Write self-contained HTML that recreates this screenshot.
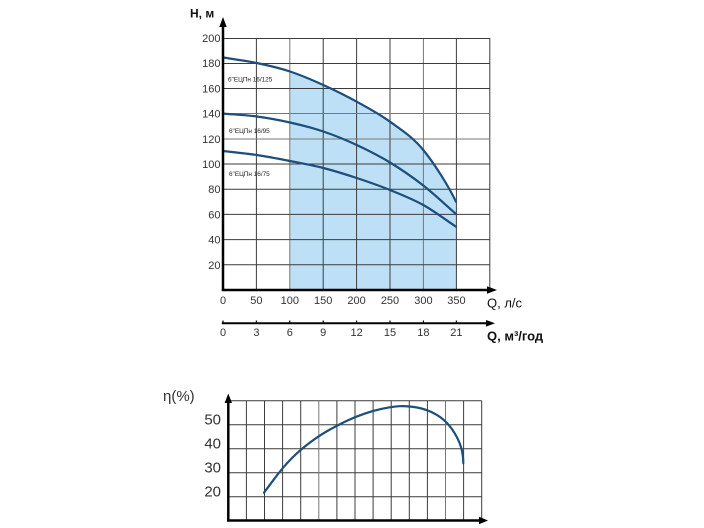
<!DOCTYPE html>
<html>
<head>
<meta charset="utf-8">
<style>
html,body{margin:0;padding:0;background:#fff;}
svg{display:block;}
text{font-family:"Liberation Sans","DejaVu Sans",sans-serif;}
</style>
</head>
<body>
<svg width="704" height="528" viewBox="0 0 704 528" xmlns="http://www.w3.org/2000/svg">
  <defs>
    <clipPath id="shadeClip"><rect x="290" y="0" width="166" height="290"/></clipPath>
  </defs>

  <!-- shaded region under top curve -->
  <path clip-path="url(#shadeClip)" fill="#bde0f6" d="M223,290 L223,57.5 C234.2,59.3 245.5,60.67 256.7,63 C267.9,65.33 278.9,67.83 290,71.5 C301.1,75.17 312.2,79.97 323.3,85 C334.4,90.03 345.6,95.58 356.7,101.7 C367.8,107.82 378.9,113.65 390,121.7 C401.1,129.75 412.3,136.67 423.3,150 C434.3,163.33 449,187 456,201.7 L456,290 Z"/>

  <!-- top grid -->
  <g stroke="#3c3c3c" stroke-width="1" fill="none">
    <line x1="256.4" y1="38" x2="256.4" y2="290"/>
    <line x1="289.8" y1="38" x2="289.8" y2="290" stroke="#777"/>
    <line x1="323.2" y1="38" x2="323.2" y2="290"/>
    <line x1="356.6" y1="38" x2="356.6" y2="290"/>
    <line x1="390" y1="38" x2="390" y2="290"/>
    <line x1="423.4" y1="38" x2="423.4" y2="290" stroke="#777"/>
    <line x1="456.4" y1="38" x2="456.4" y2="290"/>
    <line x1="489.8" y1="38" x2="489.8" y2="290"/>
    <line x1="223" y1="38.5" x2="490" y2="38.5"/>
    <line x1="223" y1="63.5" x2="490" y2="63.5"/>
    <line x1="223" y1="88.5" x2="490" y2="88.5"/>
    <line x1="223" y1="113.5" x2="490" y2="113.5" stroke="#777"/>
    <line x1="223" y1="139" x2="490" y2="139" stroke="#777"/>
    <line x1="223" y1="164" x2="490" y2="164"/>
    <line x1="223" y1="189.3" x2="490" y2="189.3"/>
    <line x1="223" y1="214.4" x2="490" y2="214.4"/>
    <line x1="223" y1="239.6" x2="490" y2="239.6"/>
    <line x1="223" y1="264.8" x2="490" y2="264.8"/>
  </g>

  <!-- curves -->
  <g stroke="#1d4e7c" stroke-width="2.2" fill="none" stroke-linecap="round">
    <path d="M223,57.5 C234.2,59.3 245.5,60.67 256.7,63 C267.9,65.33 278.9,67.83 290,71.5 C301.1,75.17 312.2,79.97 323.3,85 C334.4,90.03 345.6,95.58 356.7,101.7 C367.8,107.82 378.9,113.65 390,121.7 C401.1,129.75 412.3,136.67 423.3,150 C434.3,163.33 449,187 456,201.7"/>
    <path d="M223,113.6 C234.2,114.57 245.5,115.02 256.7,116.5 C267.9,117.98 278.9,120 290,122.5 C301.1,125 312.2,127.75 323.3,131.5 C334.4,135.25 345.6,139.83 356.7,145 C367.8,150.17 378.9,155.75 390,162.5 C401.1,169.25 412.3,176.92 423.3,185.5 C434.3,194.08 445.1,204.5 456,214"/>
    <path d="M223,151 C234.2,152.33 245.5,153.33 256.7,155 C267.9,156.67 278.9,158.83 290,161 C301.1,163.17 312.2,165.17 323.3,168 C334.4,170.83 345.6,174.33 356.7,178 C367.8,181.67 378.9,185.5 390,190 C401.1,194.5 412.3,198.88 423.3,205 C434.3,211.12 445.1,219.47 456,226.7"/>
  </g>

  <!-- curve labels -->
  <g font-size="6.4" fill="#222">
    <text x="228" y="81.5">6"ЕЦПн 16/125</text>
    <text x="229" y="133">6"ЕЦПн 16/95</text>
    <text x="229" y="176">6"ЕЦПн 16/75</text>
  </g>

  <!-- axes top chart -->
  <g stroke="#000" stroke-width="2.5" fill="none">
    <line x1="223" y1="25" x2="223" y2="291"/>
    <line x1="221.8" y1="290" x2="489" y2="290"/>
    <line x1="221.8" y1="323.3" x2="489" y2="323.3" stroke-width="2"/>
  </g>
  <polygon points="223,17 219.3,27 226.7,27" fill="#000"/>
  <polygon points="497,290 487,286.3 487,293.7" fill="#000"/>
  <polygon points="495,323.3 486,320 486,326.6" fill="#000"/>
  <!-- ticks on second axis -->
  <g stroke="#000" stroke-width="1.2">
    <line x1="223" y1="320.5" x2="223" y2="323"/>
    <line x1="256.4" y1="320.5" x2="256.4" y2="323"/>
    <line x1="289.8" y1="320.5" x2="289.8" y2="323"/>
    <line x1="323.2" y1="320.5" x2="323.2" y2="323"/>
    <line x1="356.6" y1="320.5" x2="356.6" y2="323"/>
    <line x1="390" y1="320.5" x2="390" y2="323"/>
    <line x1="423.4" y1="320.5" x2="423.4" y2="323"/>
    <line x1="456.4" y1="320.5" x2="456.4" y2="323"/>
  </g>

  <!-- y labels -->
  <text x="190" y="17.5" font-size="12" font-weight="bold" fill="#111">Н, м</text>
  <g font-size="11" fill="#333" text-anchor="end">
    <text x="220.5" y="42">200</text>
    <text x="220.5" y="67.2">180</text>
    <text x="220.5" y="92.4">160</text>
    <text x="220.5" y="117.6">140</text>
    <text x="220.5" y="142.8">120</text>
    <text x="220.5" y="168">100</text>
    <text x="220.5" y="193.2">80</text>
    <text x="220.5" y="218.4">60</text>
    <text x="220.5" y="243.6">40</text>
    <text x="220.5" y="268.8">20</text>
  </g>
  <!-- x labels axis 1 -->
  <g font-size="11" fill="#333" text-anchor="middle">
    <text x="223" y="304">0</text>
    <text x="256.4" y="304">50</text>
    <text x="289.8" y="304">100</text>
    <text x="323.2" y="304">150</text>
    <text x="356.6" y="304">200</text>
    <text x="390" y="304">250</text>
    <text x="423.4" y="304">300</text>
    <text x="456.4" y="304">350</text>
  </g>
  <g font-size="11" fill="#333" text-anchor="middle">
    <text x="223" y="336">0</text>
    <text x="256.4" y="336">3</text>
    <text x="289.8" y="336">6</text>
    <text x="323.2" y="336">9</text>
    <text x="356.6" y="336">12</text>
    <text x="390" y="336">15</text>
    <text x="423.4" y="336">18</text>
    <text x="456.4" y="336">21</text>
  </g>
  <text x="487" y="307.5" font-size="13" fill="#111">Q, л/с</text>
  <text x="487" y="340.5" font-size="13" font-weight="bold" fill="#111">Q, м³/год</text>

  <!-- lower chart grid -->
  <g stroke="#3c3c3c" stroke-width="1" fill="none">
    <line x1="228.3" y1="400.7" x2="481.7" y2="400.7"/>
    <line x1="228.3" y1="424.7" x2="481.7" y2="424.7"/>
    <line x1="228.3" y1="448.7" x2="481.7" y2="448.7"/>
    <line x1="228.3" y1="472.7" x2="481.7" y2="472.7"/>
    <line x1="228.3" y1="496.7" x2="481.7" y2="496.7"/>
    <line x1="246.4" y1="400.7" x2="246.4" y2="520"/>
    <line x1="264.5" y1="400.7" x2="264.5" y2="520"/>
    <line x1="282.6" y1="400.7" x2="282.6" y2="520"/>
    <line x1="300.7" y1="400.7" x2="300.7" y2="520"/>
    <line x1="318.8" y1="400.7" x2="318.8" y2="520" stroke="#777"/>
    <line x1="336.9" y1="400.7" x2="336.9" y2="520"/>
    <line x1="355" y1="400.7" x2="355" y2="520"/>
    <line x1="373.1" y1="400.7" x2="373.1" y2="520"/>
    <line x1="391.2" y1="400.7" x2="391.2" y2="520"/>
    <line x1="409.3" y1="400.7" x2="409.3" y2="520"/>
    <line x1="427.4" y1="400.7" x2="427.4" y2="520"/>
    <line x1="445.5" y1="400.7" x2="445.5" y2="520" stroke="#777"/>
    <line x1="463.6" y1="400.7" x2="463.6" y2="520"/>
    <line x1="481.7" y1="400.7" x2="481.7" y2="520"/>
  </g>
  <g stroke="#000" stroke-width="2.5" fill="none">
    <line x1="228.3" y1="401" x2="228.3" y2="521"/>
    <line x1="227" y1="520.5" x2="480" y2="520.5"/>
  </g>
  <polygon points="228.3,393.5 224.6,403 232,403" fill="#000"/>
  <polygon points="488,520.5 479,516.8 479,524.2" fill="#000"/>

  <path stroke="#1d4e7c" stroke-width="2.2" fill="none" stroke-linecap="round" d="M264,492.7 L273.65,479.7 Q283.3,466.7 291.65,458.35 Q300,450 310,442.5 Q320,435 330,429.5 Q340,424 347.85,420.35 Q355.7,416.7 364.5,413.7 Q373.3,410.7 382.5,408.7 Q391.7,406.7 399.2,406.2 Q406.7,405.7 417,407.5 Q427.3,409.3 436.5,414.65 Q445.7,420 452,429.15 Q458.3,438.3 461,447 Q463.3,455 463.3,463.3"/>

  <text x="163" y="401" font-size="15" fill="#333">η(%)</text>
  <g font-size="15" fill="#333" text-anchor="end">
    <text x="221" y="424.5">50</text>
    <text x="221" y="448.5">40</text>
    <text x="221" y="472.5">30</text>
    <text x="221" y="496.5">20</text>
  </g>
</svg>
</body>
</html>
